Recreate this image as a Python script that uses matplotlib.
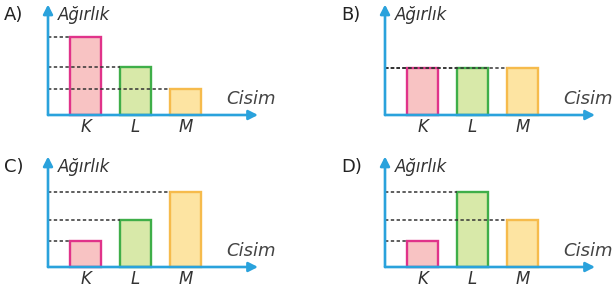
import matplotlib.pyplot as plt
from matplotlib.patches import FancyArrowPatch

# --- data ----------------------------------------------------------------------
panel_names = ["A)", "B)", "C)", "D)"]
objects     = ["K", "L", "M"]
weights_A   = [3.0, 1.85, 1.0]
weights_B   = [1.8, 1.8, 1.8]
weights_C   = [1.0, 1.8, 2.9]
weights_D   = [1.0, 2.9, 1.8]
all_weights = [weights_A, weights_B, weights_C, weights_D]

y_title = "Ağırlık"
x_title = "Cisim"

# --- style ---------------------------------------------------------------------
fill_colors = ["#f8c3c3", "#d8e9a9", "#fde4a2"]
edge_colors = ["#e0338a", "#3fae49", "#f6bb4c"]
axis_color  = "#2aa2dc"
dash_color  = "#333333"
font        = "DejaVu Sans"

W, H = 614, 295
px_x, px_y = 50.0, 26.0          # pixels per data unit
origins = [(48, 115), (385, 115), (48, 267), (385, 267)]
x0, x1 = -0.9, 4.9
y0, y1 = -1.0, 4.4

fig = plt.figure(figsize=(W / 100, H / 100), dpi=100)

for name, weights, (ox, oy) in zip(panel_names, all_weights, origins):
    left = (ox + x0 * px_x) / W
    bottom = (H - oy + y0 * px_y) / H
    ax = fig.add_axes([left, bottom, (x1 - x0) * px_x / W, (y1 - y0) * px_y / H])
    ax.set_xlim(x0, x1)
    ax.set_ylim(y0, y1)
    ax.axis("off")

    centers = [0.75, 1.75, 2.75]
    bw = 0.62
    ax.bar(centers, weights, width=bw, color=fill_colors, edgecolor=edge_colors,
           linewidth=1.7, zorder=2)

    # dashed guide lines from the axis to each bar
    for c, w in zip(centers, weights):
        ax.plot([0, c - bw / 2], [w, w], color=dash_color, lw=1.1,
                ls=(0, (2.2, 1.6)), zorder=3)

    # axes with arrows
    arrow = "-|>,head_length=5.5,head_width=2.8"
    ax.add_patch(FancyArrowPatch((0, 0), (0, 4.25), arrowstyle=arrow,
                                 color=axis_color, lw=1.9, zorder=4, shrinkA=0, shrinkB=0))
    ax.add_patch(FancyArrowPatch((0, 0), (4.2, 0), arrowstyle=arrow,
                                 color=axis_color, lw=1.9, zorder=4, shrinkA=0, shrinkB=0))

    ax.text(-0.88, 3.85, name, fontsize=13, family=font, color="#222222",
            ha="left", va="center")
    ax.text(0.2, 3.85, y_title, fontsize=12, family=font, style="italic",
            color="#333333", ha="left", va="center")
    ax.text(4.55, 0.6, x_title, fontsize=13, family=font, style="italic",
            color="#444444", ha="right", va="center")
    for c, lab in zip(centers, objects):
        ax.text(c, -0.48, lab, fontsize=12, family=font, style="italic",
                color="#333333", ha="center", va="center")

fig.savefig("out.png", dpi=100)
